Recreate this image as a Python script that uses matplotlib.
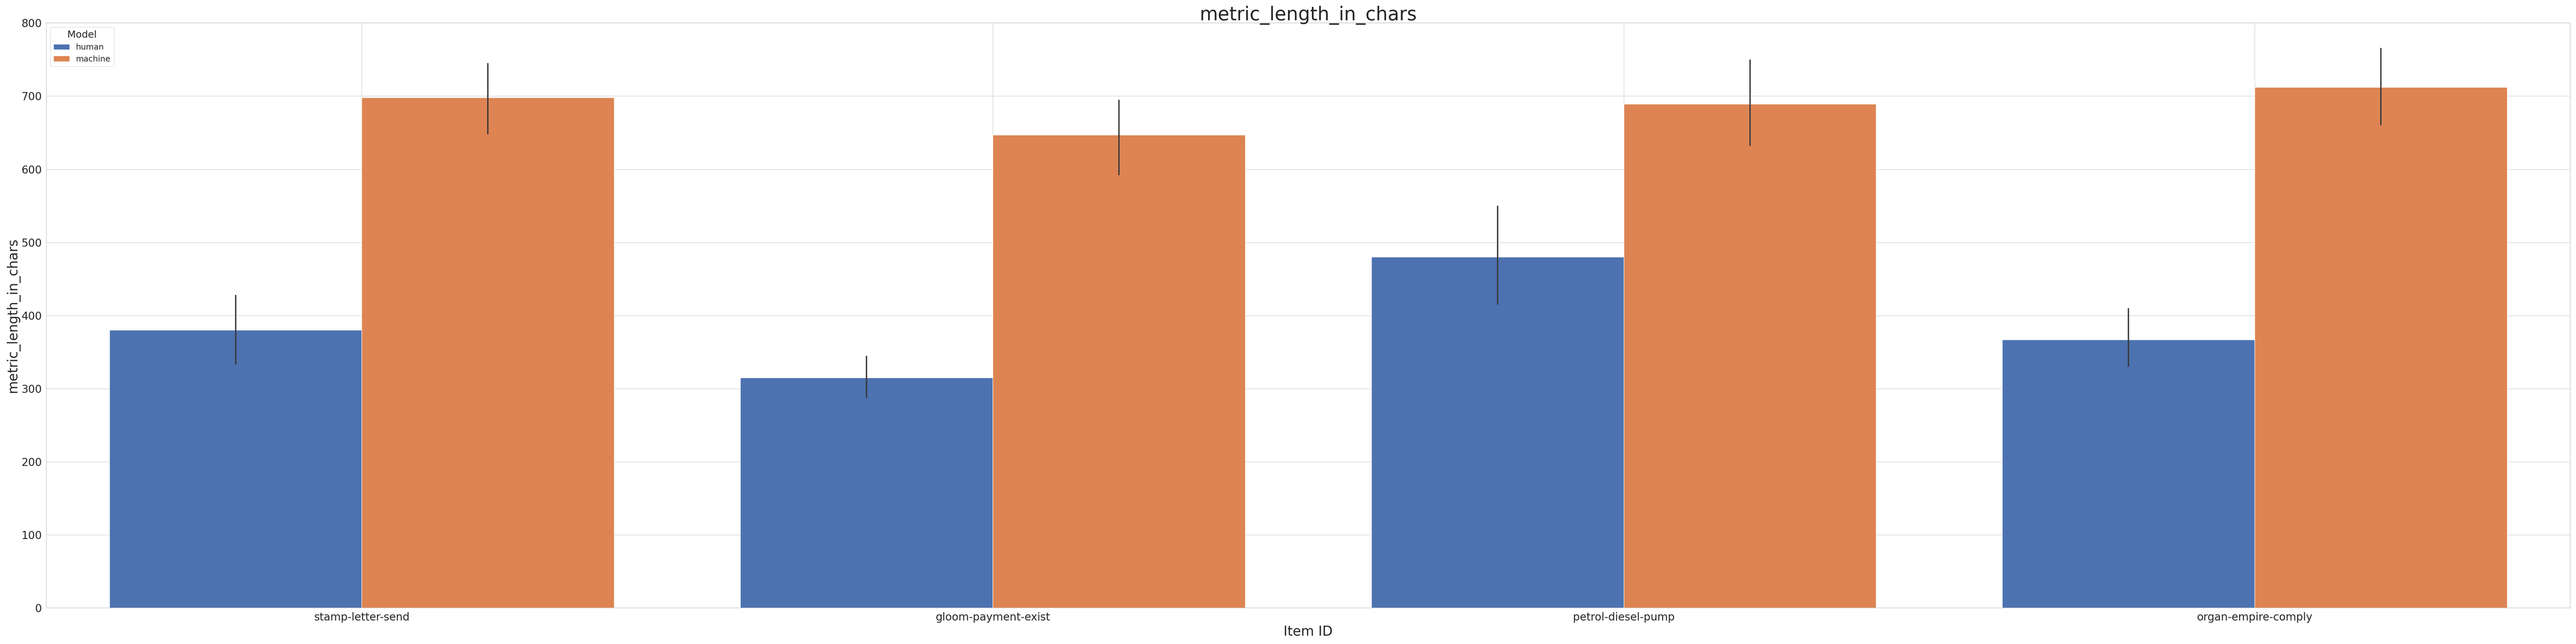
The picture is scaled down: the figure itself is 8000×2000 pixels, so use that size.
import numpy as np
import matplotlib.pyplot as plt
import seaborn as sns

items = ['stamp-letter-send', 'gloom-payment-exist', 'petrol-diesel-pump', 'organ-empire-comply']
models = ['human', 'machine']
human_mean = [380, 315, 480, 367]
human_lo = [333, 287, 415, 330]
human_hi = [428, 345, 550, 410]
machine_mean = [698, 647, 689, 712]
machine_lo = [648, 592, 632, 660]
machine_hi = [745, 695, 750, 766]

sns.set_theme(style='whitegrid')
pal = sns.color_palette('deep')

fig, ax = plt.subplots(figsize=(80, 20), dpi=100)
x = np.arange(len(items))
w = 0.4
series = [(human_mean, human_lo, human_hi), (machine_mean, machine_lo, machine_hi)]
for i, (m, lo, hi) in enumerate(series):
    pos = x + (i - 0.5) * w
    ax.bar(pos, m, width=w, color=pal[i], label=models[i], edgecolor='white', linewidth=1)
    ax.vlines(pos, lo, hi, color='#3a3a3a', linewidth=3)

ax.set_xticks(x)
ax.set_xticklabels(items, fontsize=24)
ax.tick_params(axis='y', labelsize=24)
ax.set_ylim(0, 800)
ax.set_xlim(-0.5, len(items) - 0.5)
ax.set_xlabel('Item ID', fontsize=30)
ax.set_ylabel('metric_length_in_chars', fontsize=30)
ax.set_title('metric_length_in_chars', fontsize=42)
ax.legend(title='Model', loc='upper left', fontsize=18, title_fontsize=22)

plt.tight_layout()
plt.savefig('out.png')
